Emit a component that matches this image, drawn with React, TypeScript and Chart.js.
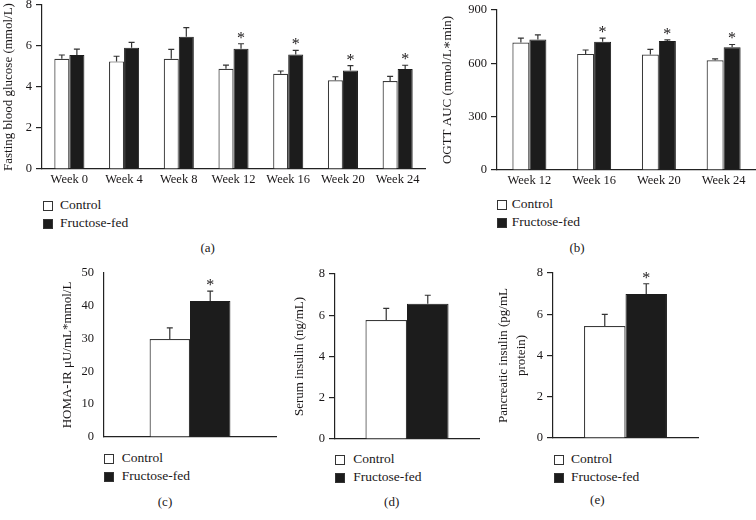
import React, { useEffect, useRef } from 'react';
import { Chart, registerables } from 'chart.js';

Chart.register(...registerables);

// ---- data ----
const weekLabelsA = ['Week 0', 'Week 4', 'Week 8', 'Week 12', 'Week 16', 'Week 20', 'Week 24'];
const glucoseControl = [5.38, 5.25, 5.38, 4.89, 4.65, 4.33, 4.29];
const glucoseControlErr = [0.18, 0.25, 0.46, 0.18, 0.13, 0.17, 0.23];
const glucoseFructose = [5.56, 5.92, 6.45, 5.87, 5.58, 4.81, 4.88];
const glucoseFructoseErr = [0.29, 0.26, 0.45, 0.24, 0.21, 0.23, 0.18];
const glucoseSig = [false, false, false, true, true, true, true];

const weekLabelsB = ['Week 12', 'Week 16', 'Week 20', 'Week 24'];
const aucControl = [717, 653, 649, 617];
const aucControlErr = [25, 22, 29, 8];
const aucFructose = [734, 721, 725, 690];
const aucFructoseErr = [26, 21, 7, 16];
const aucSig = [false, true, true, true];

const singleLabel = [''];
const homaControl = [29.9];
const homaControlErr = [3.4];
const homaFructose = [41.5];
const homaFructoseErr = [3.0];
const homaSig = [true];

const serumControl = [5.77];
const serumControlErr = [0.56];
const serumFructose = [6.56];
const serumFructoseErr = [0.41];
const serumSig = [false];

const pancControl = [5.43];
const pancControlErr = [0.56];
const pancFructose = [6.98];
const pancFructoseErr = [0.5];
const pancSig = [true];

const seriesNames = ['Control', 'Fructose-fed'];

const FONT = '"Liberation Serif", "DejaVu Serif", serif';
const INK = '#1a1718';

const errorBarPlugin = {
  id: 'errorBars',
  afterDatasetsDraw(chart: any) {
    const ctx = chart.ctx;
    const yScale = chart.scales.y;
    chart.data.datasets.forEach((ds: any, i: number) => {
      const meta = chart.getDatasetMeta(i);
      meta.data.forEach((bar: any, j: number) => {
        const v = ds.data[j];
        const e = ds.errors[j];
        const yTop = yScale.getPixelForValue(v + e);
        ctx.save();
        ctx.strokeStyle = '#333';
        ctx.lineWidth = 1.2;
        ctx.beginPath();
        ctx.moveTo(bar.x, bar.y);
        ctx.lineTo(bar.x, yTop);
        ctx.moveTo(bar.x - 3, yTop);
        ctx.lineTo(bar.x + 3, yTop);
        ctx.stroke();
        if (ds.sig && ds.sig[j]) {
          ctx.fillStyle = INK;
          ctx.font = '16px ' + FONT;
          ctx.textAlign = 'center';
          ctx.textBaseline = 'alphabetic';
          ctx.fillText('*', bar.x, yTop - 1);
        }
        ctx.restore();
      });
    });
  },
};

type PanelProps = {
  left: number;
  top: number;
  width: number;
  height: number;
  yAxisWidth: number;
  xAxisHeight: number;
  padTop: number;
  padRight: number;
  labels: string[];
  control: number[];
  controlErr: number[];
  fructose: number[];
  fructoseErr: number[];
  sig: boolean[];
  yMax: number;
  yStep: number;
  yTitle: string | string[];
  titlePad: number;
  titleLineHeight?: number;
  catPct: number;
  showXLabels: boolean;
  tickColor?: string;
};

function Panel(p: PanelProps) {
  const ref = useRef<HTMLCanvasElement | null>(null);
  useEffect(() => {
    if (!ref.current) return;
    const chart = new Chart(ref.current, {
      type: 'bar',
      data: {
        labels: p.labels,
        datasets: [
          {
            label: seriesNames[0],
            data: p.control,
            errors: p.controlErr,
            sig: p.control.map(() => false),
            backgroundColor: '#ffffff',
            borderColor: '#3a3a3a',
            borderWidth: 1.2,
            categoryPercentage: p.catPct,
            barPercentage: 1,
          } as any,
          {
            label: seriesNames[1],
            data: p.fructose,
            errors: p.fructoseErr,
            sig: p.sig,
            backgroundColor: '#1c1c1c',
            borderColor: '#1c1c1c',
            borderWidth: 1,
            categoryPercentage: p.catPct,
            barPercentage: 1,
          } as any,
        ],
      },
      options: {
        animation: false,
        responsive: false,
        maintainAspectRatio: false,
        devicePixelRatio: 1,
        layout: { padding: { top: p.padTop, right: p.padRight, left: 0, bottom: 0 } },
        plugins: { legend: { display: false }, tooltip: { enabled: false } },
        scales: {
          x: {
            type: 'category',
            offset: true,
            grid: { display: false, drawTicks: false },
            border: { display: true, color: '#222', width: 1.2 },
            ticks: {
              display: p.showXLabels,
              color: INK,
              font: { family: FONT, size: 12.5 },
              padding: 3,
              maxRotation: 0,
              autoSkip: false,
            },
            afterFit(s: any) {
              s.height = p.xAxisHeight;
              s.paddingLeft = 0;
              s.paddingRight = 0;
            },
          },
          y: {
            min: 0,
            max: p.yMax,
            ticks: {
              stepSize: p.yStep,
              color: INK,
              font: { family: FONT, size: 12.5 },
              padding: 4,
            },
            grid: {
              drawOnChartArea: false,
              drawTicks: true,
              tickLength: 6,
              tickColor: p.tickColor || '#222',
              lineWidth: 1.2,
            },
            border: { display: true, color: '#222', width: 1.2 },
            title: {
              display: true,
              text: p.yTitle,
              color: INK,
              font: { family: FONT, size: 13, lineHeight: p.titleLineHeight || 1.2 },
              padding: { top: p.titlePad, bottom: 0 },
            },
            afterFit(s: any) {
              s.width = p.yAxisWidth;
              s.paddingTop = 0;
              s.paddingBottom = 0;
            },
          },
        },
      } as any,
      plugins: [errorBarPlugin],
    });
    return () => chart.destroy();
  }, []);
  return (
    <canvas
      ref={ref}
      width={p.width}
      height={p.height}
      style={{ position: 'absolute', left: p.left, top: p.top, width: p.width, height: p.height }}
    />
  );
}

function Legend({ x, y, textX }: { x: number; y: number; textX: number }) {
  const rows = [
    { name: seriesNames[0], fill: '#ffffff', top: y },
    { name: seriesNames[1], fill: '#1c1c1c', top: y + 17.5 },
  ];
  return (
    <>
      {rows.map((r) => (
        <React.Fragment key={r.name}>
          <div
            style={{
              position: 'absolute',
              left: x,
              top: r.top,
              width: 10,
              height: 10,
              boxSizing: 'border-box',
              border: '1px solid #333',
              background: r.fill,
            }}
          />
          <div
            style={{
              position: 'absolute',
              left: textX,
              top: r.top - 4,
              fontFamily: FONT,
              fontSize: 13.5,
              lineHeight: '16px',
              color: INK,
              whiteSpace: 'nowrap',
            }}
          >
            {r.name}
          </div>
        </React.Fragment>
      ))}
    </>
  );
}

function Caption({ x, y, text }: { x: number; y: number; text: string }) {
  return (
    <div
      style={{
        position: 'absolute',
        left: x,
        top: y,
        transform: 'translate(-50%, -50%)',
        fontFamily: FONT,
        fontSize: 13,
        lineHeight: '16px',
        color: INK,
        whiteSpace: 'nowrap',
      }}
    >
      {text}
    </div>
  );
}

export default function App() {
  return (
    <div
      style={{
        position: 'fixed',
        left: 0,
        top: 0,
        width: 756,
        height: 520,
        background: '#ffffff',
        overflow: 'hidden',
      }}
    >
      <Panel
        left={0}
        top={0}
        width={430}
        height={191}
        yAxisWidth={42}
        xAxisHeight={22}
        padTop={5}
        padRight={5}
        labels={weekLabelsA}
        control={glucoseControl}
        controlErr={glucoseControlErr}
        fructose={glucoseFructose}
        fructoseErr={glucoseFructoseErr}
        sig={glucoseSig}
        yMax={8}
        yStep={2}
        yTitle="Fasting blood glucose (mmol/L)"
        titlePad={0.5}
        catPct={0.55}
        showXLabels={true}
      />
      <Panel
        left={440}
        top={0}
        width={316}
        height={192}
        yAxisWidth={57}
        xAxisHeight={22}
        padTop={10}
        padRight={0}
        labels={weekLabelsB}
        control={aucControl}
        controlErr={aucControlErr}
        fructose={aucFructose}
        fructoseErr={aucFructoseErr}
        sig={aucSig}
        yMax={900}
        yStep={300}
        yTitle="OGTT AUC (mmol/L∗min)"
        titlePad={0}
        catPct={0.525}
        showXLabels={true}
      />
      <Panel
        left={60}
        top={265}
        width={220}
        height={175}
        yAxisWidth={44}
        xAxisHeight={3}
        padTop={8}
        padRight={4}
        labels={singleLabel}
        control={homaControl}
        controlErr={homaControlErr}
        fructose={homaFructose}
        fructoseErr={homaFructoseErr}
        sig={homaSig}
        yMax={50}
        yStep={10}
        yTitle="HOMA-IR μU/mL*mmol/L"
        titlePad={0}
        catPct={0.47}
        showXLabels={false}
        tickColor="rgba(0,0,0,0)"
      />
      <Panel
        left={292}
        top={265}
        width={191}
        height={177}
        yAxisWidth={43}
        xAxisHeight={3}
        padTop={9}
        padRight={4}
        labels={singleLabel}
        control={serumControl}
        controlErr={serumControlErr}
        fructose={serumFructose}
        fructoseErr={serumFructoseErr}
        sig={serumSig}
        yMax={8}
        yStep={2}
        yTitle="Serum insulin (ng/mL)"
        titlePad={0}
        catPct={0.577}
        showXLabels={false}
      />
      <Panel
        left={494}
        top={265}
        width={208}
        height={176}
        yAxisWidth={59}
        xAxisHeight={3}
        padTop={8}
        padRight={4}
        labels={singleLabel}
        control={pancControl}
        controlErr={pancControlErr}
        fructose={pancFructose}
        fructoseErr={pancFructoseErr}
        sig={pancSig}
        yMax={8}
        yStep={2}
        yTitle={['Pancreatic insulin (pg/mL', 'protein)']}
        titlePad={0}
        titleLineHeight={1.4}
        catPct={0.572}
        showXLabels={false}
      />

      <Legend x={42.7} y={201} textX={60} />
      <Legend x={496.7} y={200} textX={511.7} />
      <Legend x={104} y={454.3} textX={121.7} />
      <Legend x={335.3} y={455} textX={353.3} />
      <Legend x={554} y={455} textX={571} />

      <Caption x={207.7} y={248} text="(a)" />
      <Caption x={577} y={248} text="(b)" />
      <Caption x={165} y={502} text="(c)" />
      <Caption x={391.7} y={502} text="(d)" />
      <Caption x={597.3} y={500} text="(e)" />
    </div>
  );
}
